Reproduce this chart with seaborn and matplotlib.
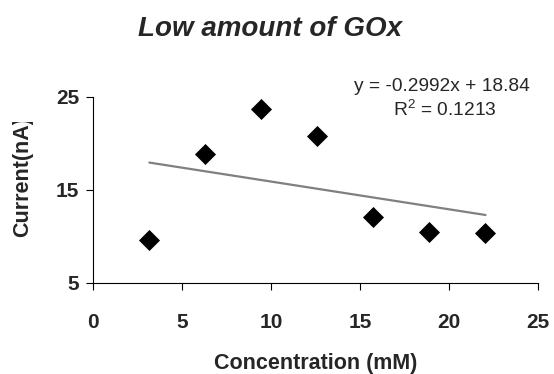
import matplotlib
matplotlib.use("Agg")
import matplotlib.pyplot as plt
import seaborn as sns
import pandas as pd
from matplotlib.transforms import Bbox

concentration = [3.15, 6.3, 9.45, 12.6, 15.75, 18.9, 22.05]
current = [9.6, 18.8, 23.7, 20.8, 12.1, 10.4, 10.3]
x_ticks = [0, 5, 10, 15, 20, 25]
y_ticks = [5, 15, 25]
eq_line = "y = -0.2992x + 18.84"
r2_line = "R$^2$ = 0.1213"

sns.set_theme(style="ticks")
plt.rcParams["font.family"] = ["Liberation Sans", "DejaVu Sans"]
plt.rcParams["mathtext.fontset"] = "custom"
plt.rcParams["mathtext.rm"] = "Liberation Sans"

df = pd.DataFrame({"conc": concentration, "current": current})

fig = plt.figure(figsize=(5.54, 3.74), dpi=100)
ax = fig.add_axes([0.1685, 0.2441, 0.8025, 0.4973])

sns.regplot(data=df, x="conc", y="current", ax=ax, ci=None, scatter=False,
            truncate=True, line_kws={"color": "#808080", "linewidth": 1.6})
sns.scatterplot(data=df, x="conc", y="current", ax=ax, marker="D", s=115,
                color="black", edgecolor="black", linewidth=0, zorder=3)

ax.set_xlim(0, 25)
ax.set_ylim(5, 25)
ax.set_xticks(x_ticks)
ax.set_yticks(y_ticks)
ax.tick_params(axis="both", direction="out", length=5, width=0.8, color="black",
               labelsize=15)
ax.tick_params(axis="x", pad=17)
ax.tick_params(axis="y", pad=5)
for lab in ax.get_xticklabels() + ax.get_yticklabels():
    lab.set_fontweight("bold")
for side in ["top", "right"]:
    ax.spines[side].set_visible(False)
for side in ["left", "bottom"]:
    ax.spines[side].set_color("black")
    ax.spines[side].set_linewidth(0.8)

ax.set_xlabel("Concentration (mM)", fontsize=15.5, fontweight="bold", labelpad=15)
ylab = ax.set_ylabel("Current(nA)", fontsize=15.5, fontweight="bold")
ylab.set_ha("left")
ax.yaxis.set_label_coords(-0.1356, 0.246)

fig.text(0.487, 0.904, "Low amount of GOx", ha="center", va="baseline",
         fontsize=20, fontweight="bold", fontstyle="italic")
fig.text(0.797, 0.757, eq_line, ha="center", va="baseline", fontsize=13.8)
fig.text(0.803, 0.69, r2_line, ha="center", va="baseline", fontsize=13.8)

# the y label is cut off at the top in the original
ylab.set_clip_on(True)
ylab.set_clip_box(Bbox([[0, 0], [554, 374 - 122]]))

fig.savefig("out.png", dpi=100)
